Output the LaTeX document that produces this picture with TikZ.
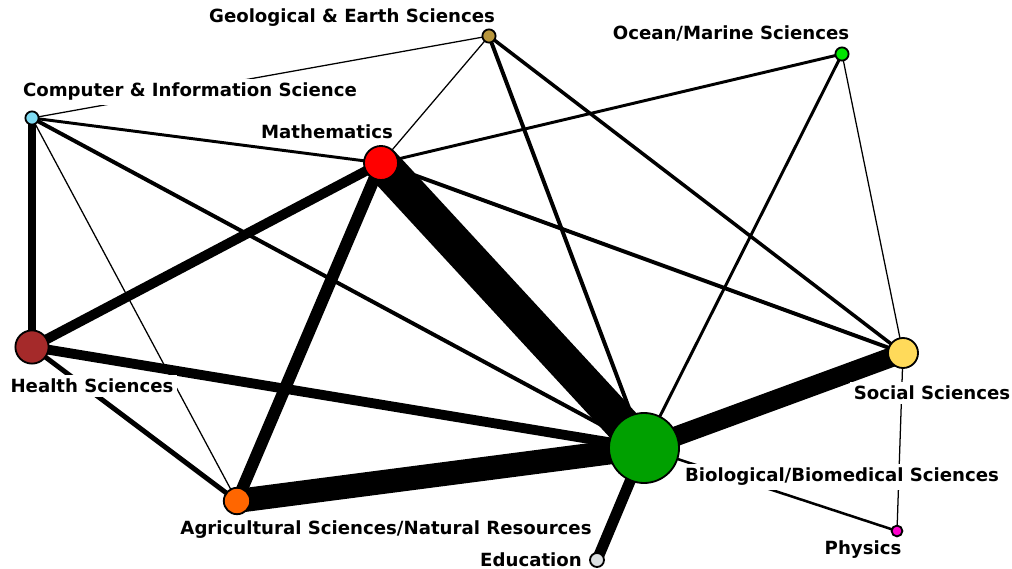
\documentclass[tikz,border=0pt]{standalone}
\usepackage{fontspec}
\setmainfont{DejaVu Sans}
\usepackage{xcolor}
\usepackage{tikz}
\pgfdeclarelayer{bg}
\pgfsetlayers{bg,main}
\definecolor{geocol}{HTML}{B8963C}
\definecolor{oceancol}{HTML}{00E600}
\definecolor{compcol}{HTML}{7FDBF2}
\definecolor{mathcol}{HTML}{FF0000}
\definecolor{healthcol}{HTML}{A52A2A}
\definecolor{socialcol}{HTML}{FFDA5A}
\definecolor{biocol}{HTML}{00A000}
\definecolor{agricol}{HTML}{FF6600}
\definecolor{educol}{HTML}{DCE0E2}
\definecolor{physcol}{HTML}{FF00CC}

\begin{document}
\begin{tikzpicture}[x=0.025cm, y=-0.025cm,
  field/.style={circle, draw=black, line width=1.3pt, inner sep=0pt},
  fieldlabel/.style={fill=white, inner xsep=2.5pt, inner ysep=3pt, anchor=base, font=\fontsize{12.9}{15}\selectfont\bfseries},
  link/.style={draw=black}]
  \useasboundingbox (0,0) rectangle (1012,569);
  % labels
  \node[fieldlabel] (geolab) at (352,23) {Geological \& Earth Sciences};
  \node[fieldlabel] (oceanlab) at (731,40) {Ocean/Marine Sciences};
  \node[fieldlabel] (complab) at (190,97) {Computer \& Information Science};
  \node[fieldlabel] (mathlab) at (327,139) {Mathematics};
  \node[fieldlabel] (healthlab) at (92,393) {Health Sciences};
  \node[fieldlabel] (sociallab) at (932,400) {Social Sciences};
  \node[fieldlabel] (biolab) at (842,482) {Biological/Biomedical Sciences};
  \node[fieldlabel] (agrilab) at (386,534) {Agricultural Sciences/Natural Resources};
  \node[fieldlabel] (edulab) at (531,566) {Education};
  \node[fieldlabel] (physlab) at (863,554) {Physics};
  % fields
  \node[field, fill=geocol, minimum size=0.33cm] (geo) at (489,36) {};
  \node[field, fill=oceancol, minimum size=0.33cm] (ocean) at (842,54) {};
  \node[field, fill=compcol, minimum size=0.33cm] (comp) at (32,118) {};
  \node[field, fill=mathcol, minimum size=0.85cm] (math) at (381,163) {};
  \node[field, fill=healthcol, minimum size=0.83cm] (health) at (32,347) {};
  \node[field, fill=socialcol, minimum size=0.75cm] (social) at (903,353) {};
  \node[field, fill=biocol, minimum size=1.75cm] (bio) at (644,448) {};
  \node[field, fill=agricol, minimum size=0.66cm] (agri) at (237,501) {};
  \node[field, fill=educol, minimum size=0.35cm] (edu) at (597,560) {};
  \node[field, fill=physcol, minimum size=0.27cm] (phys) at (897,531) {};
  % links
  \begin{pgfonlayer}{bg}
    \draw[link, line width=25.6pt] (math.center) -- (bio.center);
    \draw[link, line width=17pt] (agri.center) -- (bio.center);
    \draw[link, line width=14pt] (social.center) -- (bio.center);
    \draw[link, line width=8.5pt] (math.center) -- (agri.center);
    \draw[link, line width=7pt] (math.center) -- (health.center);
    \draw[link, line width=7pt] (health.center) -- (bio.center);
    \draw[link, line width=7.8pt] (bio.center) -- (edu.center);
    \draw[link, line width=5pt] (health.center) -- (comp.center);
    \draw[link, line width=3.5pt] (health.center) -- (agri.center);
    \draw[link, line width=2.8pt] (math.center) -- (social.center);
    \draw[link, line width=2.8pt] (comp.center) -- (bio.center);
    \draw[link, line width=2.8pt] (geo.center) -- (bio.center);
    \draw[link, line width=2.5pt] (geo.center) -- (social.center);
    \draw[link, line width=2.1pt] (comp.center) -- (math.center);
    \draw[link, line width=2.1pt] (ocean.center) -- (math.center);
    \draw[link, line width=2.1pt] (ocean.center) -- (bio.center);
    \draw[link, line width=1.8pt] (bio.center) -- (phys.center);
    \draw[link, line width=0.9pt] (geo.center) -- (math.center);
    \draw[link, line width=0.9pt] (geo.center) -- (comp.center);
    \draw[link, line width=0.9pt] (comp.center) -- (agri.center);
    \draw[link, line width=0.9pt] (ocean.center) -- (social.center);
    \draw[link, line width=0.9pt] (social.center) -- (phys.center);
  \end{pgfonlayer}
\end{tikzpicture}
\end{document}
